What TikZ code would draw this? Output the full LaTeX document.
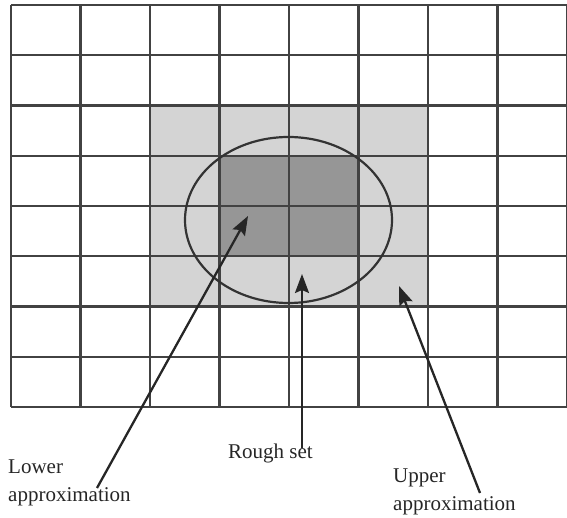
\documentclass[tikz,border=0pt]{standalone}
\usepackage{fontspec}
\setmainfont{Liberation Serif}
\usetikzlibrary{arrows.meta,positioning,shapes.geometric}
\definecolor{gridgray}{RGB}{66,66,66}
\definecolor{uppergray}{RGB}{212,212,212}
\definecolor{lowergray}{RGB}{150,150,150}
\tikzset{
  >=Stealth,
  cellline/.style={draw=gridgray, line width=2.3pt},
  lbl/.style={font=\fontsize{21}{27.5}\selectfont, inner sep=0pt, align=left, text=black!85}
}
\begin{document}
\begin{tikzpicture}[x=1pt, y=-1pt,
        ptr/.style={-{Stealth[length=19pt, width=14pt, inset=3pt]}, line width=2.3pt, draw=black!85},
        rough/.style={ellipse, draw=black!80, line width=2.2pt, inner sep=0pt, minimum width=207pt, minimum height=166pt}
    ]
    \useasboundingbox (0,0) rectangle (567,518);
    % shaded approximations
    \fill[uppergray] (150,105.5) rectangle (428,306.5);
    \fill[lowergray] (219.5,155.75) rectangle (358.5,256.25);
    % grid
    \foreach \i in {0,...,8}
        \draw[cellline] ({11+69.5*\i},5) -- ({11+69.5*\i},407);
    \foreach \j in {0,...,8}
        \draw[cellline] (11,{5+50.25*\j}) -- (567,{5+50.25*\j});
    \node[rough] (set) at (288.5,220) {};
    % labels (base = last line)
    \node[lbl, anchor=base west] (lower) at (8,501) {Lower\\approximation};
    \node[lbl, anchor=base west] (roughlbl) at (228,458) {Rough set};
    \node[lbl, anchor=base west] (upper) at (393,510) {Upper\\approximation};
    \coordinate (lowtail) at (97,488);
    \coordinate (lowtip) at (248,216);
    \coordinate (roughtail) at (302,448);
    \coordinate (roughtip) at (302,274);
    \coordinate (uptail) at (480,493);
    \coordinate (uptip) at (399,286);
    \draw[ptr] (lowtail) -- (lowtip);
    \draw[ptr] (roughtail) -- (roughtip);
    \draw[ptr] (uptail) -- (uptip);
\end{tikzpicture}
\end{document}
